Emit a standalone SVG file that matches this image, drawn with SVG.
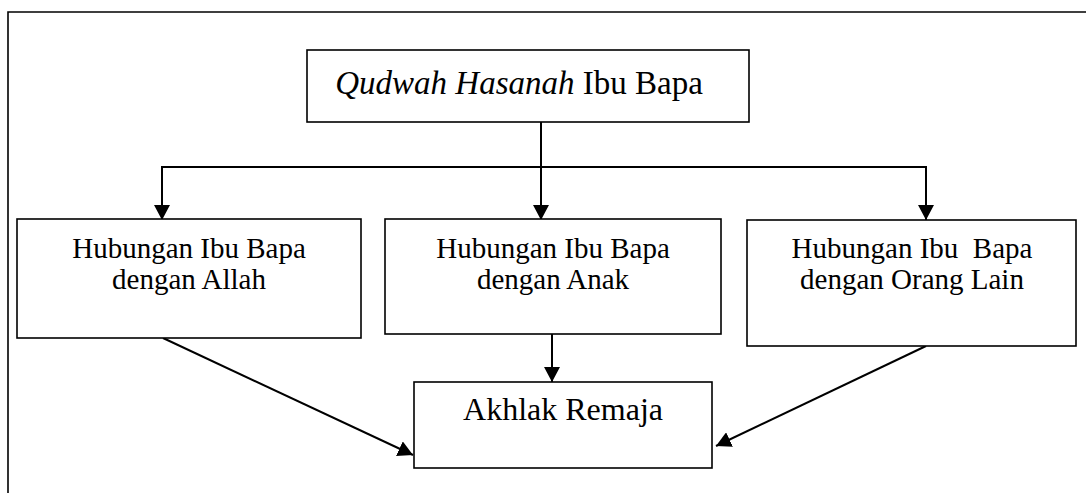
<svg xmlns="http://www.w3.org/2000/svg" width="1086" height="493" viewBox="0 0 1086 493">
<style>
.box{fill:#fff;stroke:#000;stroke-width:1.6}
.t{font-family:"Liberation Serif","Times New Roman",serif;font-size:29px;fill:#000;text-anchor:middle}
.c{fill:none;stroke:#000;stroke-width:2}
</style>
<defs>
<marker id="ah" markerUnits="userSpaceOnUse" markerWidth="15" markerHeight="16" refX="15" refY="8" orient="auto">
<path d="M0,0 L15,8 L0,16 z" fill="#000"/>
</marker>
</defs>
<rect width="1086" height="493" fill="#fff"/>
<path d="M8,493 L8,12 L1086,12" fill="none" stroke="#000" stroke-width="1.6"/>
<g id="connectors">
<path class="c" d="M541,122 L541,220" marker-end="url(#ah)"/>
<path class="c" d="M541,167 L162,167 L162,220" marker-end="url(#ah)"/>
<path class="c" d="M541,167 L926,167 L926,220" marker-end="url(#ah)"/>
<path class="c" d="M552,334 L552,382" marker-end="url(#ah)"/>
<path class="c" d="M163,338 L413,455" marker-end="url(#ah)"/>
<path class="c" d="M926,346 L716,446" marker-end="url(#ah)"/>
</g>
<g id="node-top">
<rect class="box" x="307" y="50" width="442" height="72"/>
<text class="t" x="519" y="94" style="font-size:33px"><tspan font-style="italic">Qudwah Hasanah</tspan> Ibu Bapa</text>
</g>
<g id="node-allah">
<rect class="box" x="17" y="219" width="344" height="119"/>
<text class="t" x="189" y="258">Hubungan Ibu Bapa</text>
<text class="t" x="189" y="289">dengan Allah</text>
</g>
<g id="node-anak">
<rect class="box" x="385" y="219" width="336" height="115"/>
<text class="t" x="553" y="258">Hubungan Ibu Bapa</text>
<text class="t" x="553" y="289">dengan Anak</text>
</g>
<g id="node-orang">
<rect class="box" x="747" y="220" width="329" height="126"/>
<text class="t" x="912" y="258" xml:space="preserve">Hubungan Ibu  Bapa</text>
<text class="t" x="912" y="289">dengan Orang Lain</text>
</g>
<g id="node-akhlak">
<rect class="box" x="414" y="382" width="298" height="86"/>
<text class="t" x="563" y="420" style="font-size:32px">Akhlak Remaja</text>
</g>
</svg>
